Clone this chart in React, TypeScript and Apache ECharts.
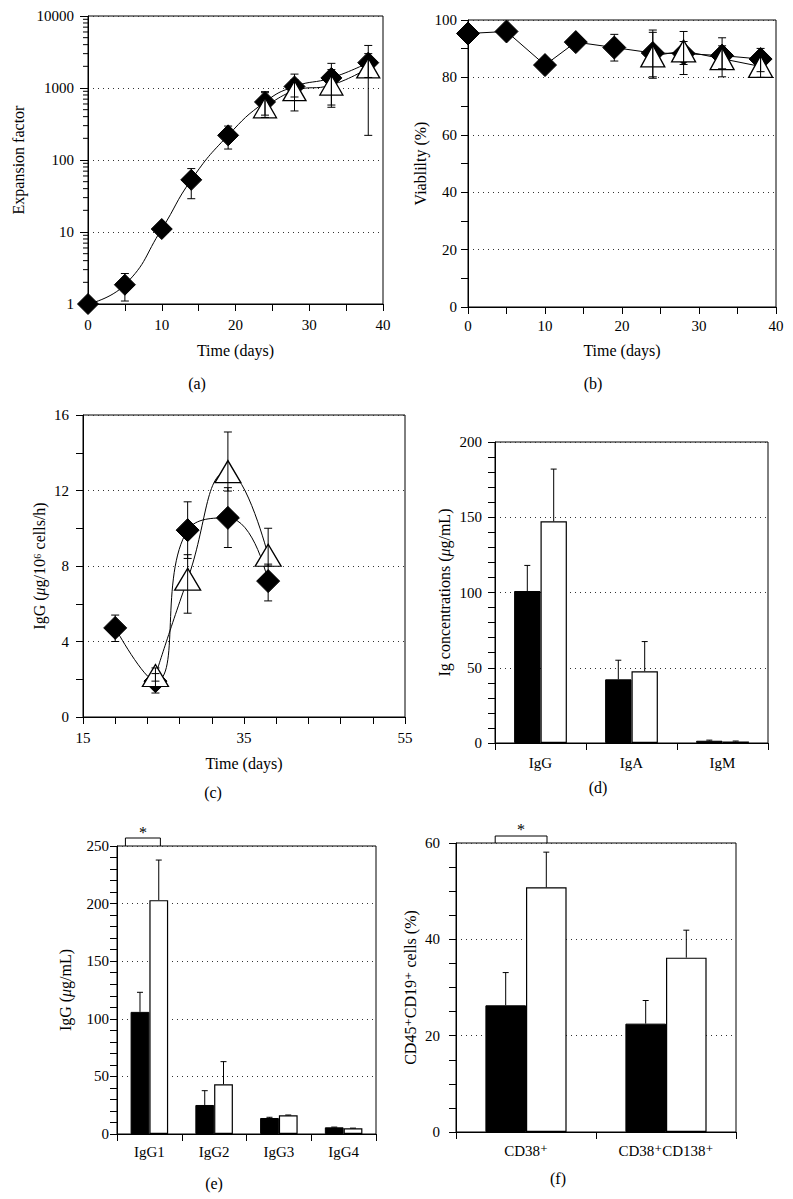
import React, { useEffect, useRef } from 'react';
import * as echarts from 'echarts';

const FONT = "'Liberation Serif', 'DejaVu Serif', serif";

// ---------- (a) Expansion factor ----------
const daysA = [0, 5, 10, 14, 19, 24, 28, 33, 38];
const expDiamond = [1, 1.85, 11, 53, 220, 640, 1050, 1380, 2250];
const expDiamondLow = [null, 1.1, null, 29, 142, 420, 750, 580, 1400];
const expDiamondHigh = [null, 2.65, null, 76, 296, 890, 1560, 2200, 3000];
const daysTri = [24, 28, 33, 38];
const expTri = [530, 920, 1100, 1900];
const expTriLow = [390, 480, 540, 220];
const expTriHigh = [860, 1300, 1800, 3900];
const logDecades = [1, 10, 100, 1000];
const logMinorMultipliers = [2, 3, 4, 5, 6, 7, 8, 9];

// ---------- (b) Viability ----------
const viaDiamond = [95.3, 96.0, 84.3, 92.3, 90.4, 88.5, 88.3, 87.6, 86.4];
const viaDiamondLow = [null, null, null, null, 85.7, 80.2, 84.5, 83, 82];
const viaDiamondHigh = [null, null, null, null, 95.0, 95.7, 92.5, 91, 90.1];
const viaTri = [87.5, 89.2, 86.5, 83.8];
const viaTriLow = [79.7, 81, 80.2, 80];
const viaTriHigh = [96.5, 96, 93.8, 89];

// ---------- (c) IgG production ----------
const daysC = [19, 24, 28, 33, 38];
const igDiamond = [4.72, 1.9, 9.9, 10.55, 7.2];
const igDiamondLow = [4.0, 1.27, 8.4, 8.98, 6.15];
const igDiamondHigh = [5.4, 2.3, 11.4, 12.15, 8.1];
const daysCT = [24, 28, 33, 38];
const igTri = [2.2, 7.3, 13.0, 8.57];
const igTriLow = [1.9, 5.5, 11.97, 8.0];
const igTriHigh = [2.6, 8.6, 15.1, 10.0];

// ---------- (d) Ig concentrations ----------
const catsD = ['IgG', 'IgA', 'IgM'];
const dBlack = [101, 42.3, 1.5];
const dBlackErr = [118, 55, 1.9];
const dWhite = [147.3, 47.7, 1.0];
const dWhiteErr = [182, 67.4, 1.3];

// ---------- (e) IgG subclasses ----------
const catsE = ['IgG1', 'IgG2', 'IgG3', 'IgG4'];
const eBlack = [106, 25.2, 13.9, 5.8];
const eBlackErr = [123, 37.6, 14.5, 6.0];
const eWhite = [203, 43.1, 16.2, 4.9];
const eWhiteErr = [237.8, 62.8, 16.5, 5.1];

// ---------- (f) CD45+CD19+ cells ----------
const catsF = ['CD38⁺', 'CD38⁺CD138⁺'];
const fBlack = [26.3, 22.5];
const fBlackErr = [33.1, 27.3];
const fWhite = [50.8, 36.2];
const fWhiteErr = [58.1, 41.9];

const BAR_FRAC = 0.29;

const zip = (xs: number[], ys: (number | null)[]) => xs.map((x, i) => [x, ys[i]]);
const zipErr = (xs: number[], lo: (number | null)[], hi: (number | null)[]) =>
  xs.map((x, i) => [x, lo[i], hi[i]]).filter((d) => d[1] != null && d[2] != null);

const LINE = { stroke: '#000', lineWidth: 1 };

function errSeries(axis: number, data: any[], cap: number) {
  return {
    type: 'custom',
    xAxisIndex: axis,
    yAxisIndex: axis,
    z: 5,
    silent: true,
    encode: { x: 0, y: [1, 2] },
    data,
    renderItem: (params: any, api: any) => {
      const x = api.value(0);
      const a = api.coord([x, api.value(1)]);
      const b = api.coord([x, api.value(2)]);
      return {
        type: 'group',
        children: [
          { type: 'line', shape: { x1: a[0], y1: a[1], x2: b[0], y2: b[1] }, style: LINE },
          { type: 'line', shape: { x1: a[0] - cap, y1: a[1], x2: a[0] + cap, y2: a[1] }, style: LINE },
          { type: 'line', shape: { x1: b[0] - cap, y1: b[1], x2: b[0] + cap, y2: b[1] }, style: LINE },
        ],
      };
    },
  };
}

function barErrSeries(axis: number, vals: number[], tops: number[], sign: number) {
  return {
    type: 'custom',
    xAxisIndex: axis,
    yAxisIndex: axis,
    z: 4,
    silent: true,
    encode: { x: 0, y: [1, 2] },
    data: vals.map((v, i) => [i, v, tops[i]]),
    renderItem: (params: any, api: any) => {
      const c = api.coord([api.value(0), api.value(1)]);
      const t = api.coord([api.value(0), api.value(2)]);
      const band = api.size([1, 0])[0];
      const x = c[0] + (sign * band * BAR_FRAC) / 2;
      return {
        type: 'group',
        children: [
          { type: 'line', shape: { x1: x, y1: c[1], x2: x, y2: t[1] }, style: LINE },
          { type: 'line', shape: { x1: x - 3, y1: t[1], x2: x + 3, y2: t[1] }, style: LINE },
        ],
      };
    },
  };
}

function bracketSeries(axis: number, ymax: number, from: number, to: number, h: number, starGap: number) {
  return {
    type: 'custom',
    xAxisIndex: axis,
    yAxisIndex: axis,
    z: 6,
    silent: true,
    clip: false,
    encode: { x: 0, y: 1 },
    data: [[0, ymax]],
    renderItem: (params: any, api: any) => {
      const c = api.coord([0, api.value(1)]);
      const band = api.size([1, 0])[0];
      const x1 = c[0] + from * band;
      const x2 = c[0] + to * band;
      const y0 = c[1];
      return {
        type: 'group',
        children: [
          {
            type: 'polyline',
            shape: { points: [[x1, y0], [x1, y0 - h], [x2, y0 - h], [x2, y0]] },
            style: { stroke: '#000', lineWidth: 1, fill: 'none' },
          },
          {
            type: 'text',
            x: (x1 + x2) / 2,
            y: y0 - h - starGap,
            style: { text: '*', fill: '#000', font: `16px ${FONT}`, align: 'center', verticalAlign: 'middle' },
          },
        ],
      };
    },
  };
}

const logMinorTicks: number[] = [];
logDecades.forEach((d) => logMinorMultipliers.forEach((m) => logMinorTicks.push(d * m)));

const axisLine = { show: true, onZero: false, lineStyle: { color: '#000', width: 1 } };
const axisTick = { show: true, length: 7, inside: false, lineStyle: { color: '#000', width: 1 } };
const dotted = { show: true, lineStyle: { color: '#333', width: 1, type: [1, 4] } };
const labelStyle = (margin: number) => ({ color: '#000', fontFamily: FONT, fontSize: 15, fontWeight: 'normal', margin });
const nameStyle = {
  color: '#000',
  fontFamily: FONT,
  fontSize: 16,
  fontWeight: 'normal',
  rich: { i: { fontStyle: 'italic', fontFamily: FONT, fontSize: 16, fontWeight: 'normal', color: '#000' } },
};

function valueX(grid: number, min: number, max: number, interval: number, split: number, gap: number, margin: number) {
  return {
    type: 'value',
    gridIndex: grid,
    min,
    max,
    interval,
    axisLine,
    axisTick,
    minorTick: { show: true, splitNumber: split, length: 7, lineStyle: { color: '#000', width: 1 } },
    axisLabel: labelStyle(margin),
    splitLine: { show: false },
    name: 'Time (days)',
    nameLocation: 'middle',
    nameGap: gap,
    nameTextStyle: nameStyle,
  };
}

function valueY(grid: number, max: number, interval: number, split: number, name: string, gap: number, margin: number) {
  return {
    type: 'value',
    gridIndex: grid,
    min: 0,
    max,
    interval,
    axisLine,
    axisTick,
    minorTick: { show: true, splitNumber: split, length: 7, lineStyle: { color: '#000', width: 1 } },
    axisLabel: labelStyle(margin),
    splitLine: dotted,
    name,
    nameLocation: 'middle',
    nameGap: gap,
    nameTextStyle: nameStyle,
  };
}

function catX(grid: number, data: string[], margin: number) {
  return {
    type: 'category',
    gridIndex: grid,
    data,
    axisLine,
    axisTick,
    axisLabel: labelStyle(margin),
    splitLine: { show: false },
  };
}

const gridBox = { show: true, borderColor: '#000', borderWidth: 1, backgroundColor: 'rgba(0,0,0,0)', containLabel: false };

const diamondLine = (axis: number, data: any[], size: number, smooth: boolean | number) => ({
  type: 'line',
  xAxisIndex: axis,
  yAxisIndex: axis,
  data,
  symbol: 'diamond',
  symbolSize: size,
  smooth,
  z: 2,
  silent: true,
  itemStyle: { color: '#000', borderColor: '#000' },
  lineStyle: { color: '#000', width: 1 },
});

const triLine = (axis: number, data: any[], size: number[], smooth: boolean | number) => ({
  type: 'line',
  xAxisIndex: axis,
  yAxisIndex: axis,
  data,
  symbol: 'triangle',
  symbolSize: size,
  smooth,
  z: 3,
  silent: true,
  itemStyle: { color: '#fff', borderColor: '#000', borderWidth: 1.3 },
  lineStyle: { color: '#000', width: 1 },
});

const barPair = (axis: number, black: number[], white: number[]) => [
  {
    type: 'bar',
    xAxisIndex: axis,
    yAxisIndex: axis,
    data: black,
    barWidth: `${BAR_FRAC * 100}%`,
    barGap: '0%',
    silent: true,
    z: 2,
    itemStyle: { color: '#000', borderColor: '#000', borderWidth: 1 },
  },
  {
    type: 'bar',
    xAxisIndex: axis,
    yAxisIndex: axis,
    data: white,
    barWidth: `${BAR_FRAC * 100}%`,
    barGap: '0%',
    silent: true,
    z: 2,
    itemStyle: { color: '#fff', borderColor: '#000', borderWidth: 1.2 },
  },
];

const caption = (text: string, x: number, y: number) => ({
  type: 'text',
  x,
  y,
  style: { text, fill: '#000', font: `16px ${FONT}`, align: 'center', verticalAlign: 'middle' },
});

const option: any = {
  animation: false,
  backgroundColor: '#fff',
  textStyle: { fontFamily: FONT, color: '#000', fontWeight: 'normal' },
  grid: [
    { ...gridBox, left: 88, top: 16, width: 295, height: 288 },
    { ...gridBox, left: 468, top: 20, width: 308, height: 287 },
    { ...gridBox, left: 83, top: 415, width: 322, height: 302 },
    { ...gridBox, left: 495, top: 442, width: 273, height: 301 },
    { ...gridBox, left: 117, top: 846, width: 259, height: 288 },
    { ...gridBox, left: 456, top: 843, width: 280, height: 289 },
  ],
  xAxis: [
    valueX(0, 0, 40, 10, 2, 38, 13),
    valueX(1, 0, 40, 10, 2, 35, 11),
    valueX(2, 15, 55, 20, 5, 38, 13),
    catX(3, catsD, 12),
    catX(4, catsE, 10),
    catX(5, catsF, 11),
  ],
  yAxis: [
    {
      type: 'log',
      gridIndex: 0,
      logBase: 10,
      min: 1,
      max: 10000,
      axisLine,
      axisTick: { ...axisTick, length: 8 },
      axisLabel: { ...labelStyle(14), formatter: (v: number) => String(Math.round(v)) },
      splitLine: dotted,
      name: 'Expansion factor',
      nameLocation: 'middle',
      nameGap: 62,
      nameTextStyle: nameStyle,
    },
    valueY(1, 100, 20, 2, 'Viablilty (%)', 40, 11),
    valueY(2, 16, 4, 2, 'IgG ({i|μ}g/10⁶ cells/h)', 36, 14),
    valueY(3, 200, 50, 5, 'Ig concentrations ({i|μ}g/mL)', 43, 13),
    valueY(4, 250, 50, 5, 'IgG ({i|μ}g/mL)', 44, 8),
    valueY(5, 60, 20, 4, 'CD45⁺CD19⁺ cells (%)', 38, 16),
  ],
  graphic: [
    caption('(a)', 197, 383),
    caption('(b)', 593, 383),
    caption('(c)', 213, 792),
    caption('(d)', 598, 787),
    caption('(e)', 214, 1183),
    caption('(f)', 558, 1178),
  ],
  series: [
    // (a)
    {
      type: 'custom',
      xAxisIndex: 0,
      yAxisIndex: 0,
      silent: true,
      clip: false,
      z: 6,
      encode: { x: 0, y: 1 },
      data: logMinorTicks.map((v) => [0, v]),
      renderItem: (params: any, api: any) => {
        const p = api.coord([0, api.value(1)]);
        return { type: 'line', shape: { x1: p[0] - 5, y1: p[1], x2: p[0], y2: p[1] }, style: LINE };
      },
    },
    diamondLine(0, zip(daysA, expDiamond), 21, 0.5),
    triLine(0, zip(daysTri, expTri), [23, 20], 0.5),
    errSeries(0, zipErr(daysA, expDiamondLow, expDiamondHigh), 4),
    errSeries(0, zipErr(daysTri, expTriLow, expTriHigh), 4),
    // (b)
    diamondLine(1, zip(daysA, viaDiamond), 23, false),
    triLine(1, zip(daysTri, viaTri), [24, 22], false),
    errSeries(1, zipErr(daysA, viaDiamondLow, viaDiamondHigh), 4),
    errSeries(1, zipErr(daysTri, viaTriLow, viaTriHigh), 4),
    // (c)
    diamondLine(2, zip(daysC, igDiamond), 23, 0.5),
    triLine(2, zip(daysCT, igTri), [26, 22], 0.5),
    errSeries(2, zipErr(daysC, igDiamondLow, igDiamondHigh), 4),
    errSeries(2, zipErr(daysCT, igTriLow, igTriHigh), 4),
    // (d)
    ...barPair(3, dBlack, dWhite),
    barErrSeries(3, dBlack, dBlackErr, -1),
    barErrSeries(3, dWhite, dWhiteErr, 1),
    // (e)
    ...barPair(4, eBlack, eWhite),
    barErrSeries(4, eBlack, eBlackErr, -1),
    barErrSeries(4, eWhite, eWhiteErr, 1),
    bracketSeries(4, 250, -0.37, 0.17, 8, 6),
    // (f)
    ...barPair(5, fBlack, fWhite),
    barErrSeries(5, fBlack, fBlackErr, -1),
    barErrSeries(5, fWhite, fWhiteErr, 1),
    bracketSeries(5, 60, -0.22, 0.15, 7, 7),
  ],
};

export default function App() {
  const ref = useRef<HTMLDivElement>(null);
  useEffect(() => {
    const chart = echarts.init(ref.current!, null, { renderer: 'svg', width: 793, height: 1199 });
    chart.setOption(option);
    return () => chart.dispose();
  }, []);
  return (
    <div
      ref={ref}
      style={{ position: 'absolute', left: 0, top: 0, width: 793, height: 1199, background: '#fff' }}
    />
  );
}
